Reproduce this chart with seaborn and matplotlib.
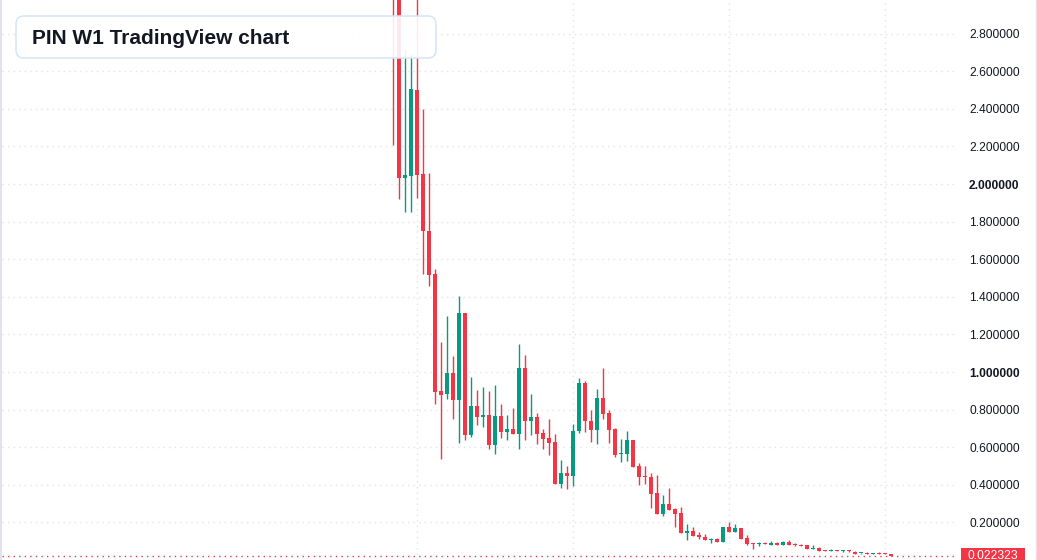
import numpy as np
import pandas as pd
import matplotlib
matplotlib.use("Agg")
import matplotlib.pyplot as plt
import seaborn as sns
from matplotlib.patches import FancyBboxPatch, Rectangle
from matplotlib.lines import Line2D
from matplotlib.transforms import Affine2D, blended_transform_factory

# ---- data (weekly OHLC) ----
opens = [3.30, 3.10, 2.03, 2.044, 2.50, 2.053, 1.75, 1.521, 0.899, 0.885,
         0.995, 0.853, 1.314, 0.666, 0.82, 0.762, 0.771, 0.613, 0.766, 0.683,
         0.698, 0.672, 1.023, 0.741, 0.762, 0.676, 0.649, 0.628, 0.404, 0.463,
         0.448, 0.686, 0.941, 0.741, 0.693, 0.862, 0.78, 0.697, 0.562, 0.566,
         0.638, 0.50, 0.447, 0.441, 0.356, 0.246, 0.298, 0.273, 0.252, 0.145,
         0.152, 0.135, 0.124, 0.106, 0.112, 0.097, 0.176, 0.149, 0.170, 0.117,
         0.090, 0.087, 0.089, 0.078, 0.092, 0.082, 0.096, 0.087, 0.082, 0.078,
         0.060, 0.064, 0.053, 0.050, 0.050, 0.048, 0.050, 0.044, 0.035, 0.039,
         0.030, 0.039, 0.037, 0.034]
highs = [3.45, 3.20, 2.72, 2.69, 3.05, 2.40, 2.06, 1.546, 1.16, 1.298,
         1.085, 1.404, 1.314, 0.973, 0.904, 0.92, 0.899, 0.931, 0.83, 0.771,
         0.809, 1.15, 1.092, 0.885, 0.784, 0.697, 0.75, 0.67, 0.532, 0.50,
         0.723, 0.968, 0.952, 0.798, 0.91, 1.02, 0.798, 0.704, 0.644, 0.686,
         0.638, 0.516, 0.50, 0.463, 0.452, 0.346, 0.383, 0.278, 0.284, 0.193,
         0.177, 0.151, 0.140, 0.117, 0.117, 0.176, 0.202, 0.191, 0.170, 0.133,
         0.090, 0.096, 0.094, 0.099, 0.096, 0.099, 0.106, 0.092, 0.085, 0.080,
         0.080, 0.069, 0.055, 0.057, 0.052, 0.055, 0.054, 0.048, 0.039, 0.043,
         0.039, 0.040, 0.039, 0.034]
lows = [2.21, 1.92, 1.85, 1.85, 1.925, 1.52, 1.459, 0.828, 0.536, 0.858,
        0.75, 0.62, 0.637, 0.656, 0.72, 0.709, 0.592, 0.565, 0.65, 0.64,
        0.672, 0.592, 0.64, 0.666, 0.619, 0.592, 0.56, 0.404, 0.385, 0.379,
        0.394, 0.676, 0.683, 0.629, 0.619, 0.75, 0.624, 0.55, 0.523, 0.528,
        0.497, 0.399, 0.404, 0.278, 0.246, 0.235, 0.268, 0.177, 0.145, 0.108,
        0.129, 0.113, 0.106, 0.092, 0.097, 0.097, 0.149, 0.149, 0.113, 0.080,
        0.060, 0.077, 0.083, 0.078, 0.082, 0.082, 0.080, 0.076, 0.076, 0.060,
        0.060, 0.050, 0.049, 0.048, 0.046, 0.042, 0.045, 0.030, 0.034, 0.030,
        0.030, 0.033, 0.033, 0.020]
closes = [3.10, 2.03, 2.05, 2.503, 2.05, 1.75, 1.517, 0.895, 0.88, 0.995,
          0.853, 1.314, 0.666, 0.82, 0.762, 0.771, 0.613, 0.766, 0.683, 0.698,
          0.672, 1.023, 0.741, 0.762, 0.672, 0.645, 0.624, 0.404, 0.463, 0.448,
          0.686, 0.941, 0.741, 0.693, 0.862, 0.778, 0.693, 0.56, 0.567, 0.638,
          0.497, 0.443, 0.441, 0.353, 0.246, 0.298, 0.268, 0.246, 0.145, 0.152,
          0.129, 0.124, 0.108, 0.112, 0.097, 0.176, 0.149, 0.170, 0.113, 0.087,
          0.087, 0.090, 0.083, 0.092, 0.082, 0.096, 0.080, 0.082, 0.076, 0.060,
          0.063, 0.050, 0.050, 0.053, 0.048, 0.050, 0.046, 0.030, 0.037, 0.030,
          0.039, 0.034, 0.034, 0.022323]
price_ticks = [0.2, 0.4, 0.6, 0.8, 1.0, 1.2, 1.4, 1.6, 1.8, 2.0, 2.2, 2.4, 2.6, 2.8]
bold_ticks = [1.0, 2.0]
top_tick = 3.0
half_year_grid = [4, 30, 56, 82]
last_price = 0.022323
title = "PIN W1 TradingView chart"

UP, DOWN = "#089981", "#f23645"
GRID = "#e0e3eb"
TEXT = "#131722"

sns.set_theme(style="white")
plt.rcParams['font.family'] = ['Liberation Sans', 'DejaVu Sans']

W, H = 1037, 560
fig = plt.figure(figsize=(W / 100, H / 100), dpi=100)
fig.patch.set_facecolor("white")
ax = fig.add_axes([2 / W, 0, (955 - 2) / W, 1])
ax.set_facecolor("white")

df = pd.DataFrame(dict(x=np.arange(len(opens)), o=opens, h=highs, l=lows, c=closes))
colors = np.where(df.c >= df.o, UP, DOWN)
ax.vlines(df.x, df.l, df.h, colors=colors, linewidth=1, zorder=3)
bottom = np.minimum(df.o, df.c)
height = np.maximum((df.c - df.o).abs(), 0.005)
ax.bar(df.x, height, bottom=bottom, width=0.72, color=colors, linewidth=0, zorder=4)

ax.set_xlim((2 - 393.3) / 6, (955 - 393.3) / 6)
ax.set_ylim(0, 2.979)

ax.set_xticks(half_year_grid)
ax.set_xticklabels([])
ax.set_yticks(price_ticks)
ax.set_yticklabels([f"{v:.6f}" for v in price_ticks])
ax.yaxis.tick_right()
ax.tick_params(axis="y", length=0, pad=10.1, labelsize=8.64, labelcolor=TEXT)
ax.tick_params(axis="x", length=0)
for lab, v in zip(ax.get_yticklabels(), price_ticks):
    if v in bold_ticks:
        lab.set_fontweight("bold")
ax.grid(True, color=GRID, linestyle=(0, (1, 3)), linewidth=1)
ax.set_axisbelow(True)
for s in ax.spines.values():
    s.set_visible(False)

blend = blended_transform_factory(ax.transAxes, ax.transData)
ax.text(1 + 14 / 953, top_tick, f"{top_tick:.6f}", transform=blend, ha="left",
        va="center", fontsize=8.64, color=TEXT, clip_on=False)

# last price line
ax.axhline(last_price, color=DOWN, linestyle=(0, (1, 3)), linewidth=1, zorder=2)

px = Affine2D().scale(1 / 100) + fig.dpi_scale_trans
yc = ax.transData.transform((0, last_price))[1]
fig.add_artist(Rectangle((961, yc - 8), 64, 16, transform=px, facecolor=DOWN,
                         edgecolor="none", zorder=6))
fig.text(993, yc, f"{last_price:.6f}", transform=px, ha="center", va="center",
         fontsize=8.64, color="white", zorder=7)

# borders
fig.add_artist(Line2D([1, 1], [0, H], transform=px, color=GRID, linewidth=1.5, zorder=6))
fig.add_artist(Line2D([1035.5, 1035.5], [0, H], transform=px, color=GRID, linewidth=1, zorder=6))

# title box
fig.add_artist(FancyBboxPatch((16, H - 58), 420, 42, boxstyle="round,pad=0,rounding_size=8",
                              transform=px, facecolor=(1, 1, 1, 0.9), edgecolor="#d6e4f7",
                              linewidth=1.1, zorder=8))
fig.text(32, H - 44.3, title, transform=px, ha="left", va="baseline", fontsize=15,
         fontweight="bold", color=TEXT, zorder=9)

fig.savefig("out.png", dpi=100)
